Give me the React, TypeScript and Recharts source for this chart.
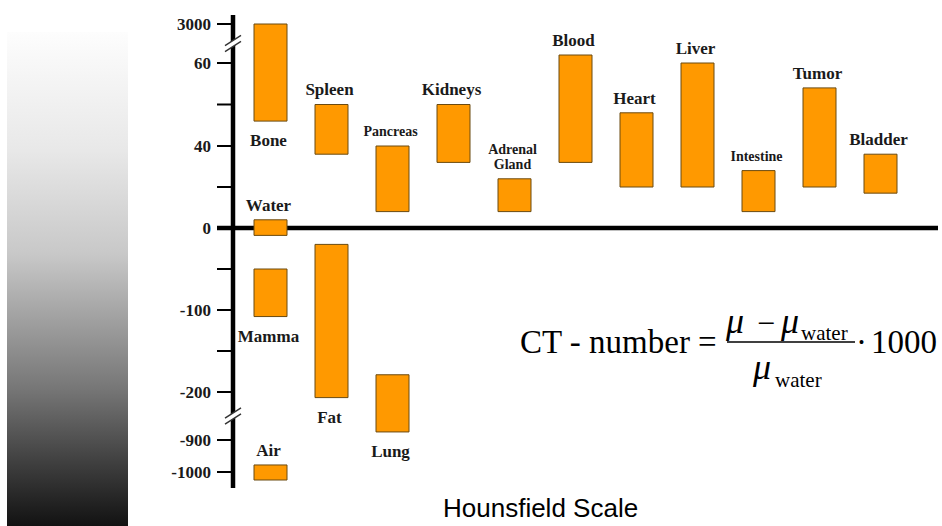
// Hounsfield-Skala: CT-Zahlen der Gewebe als schwebende Balken auf gebrochener Achse.
import { Bar, BarChart, LabelList, ReferenceLine, XAxis, YAxis } from "recharts";

const columns = ["Bone", "Spleen", "Pancreas", "Kidneys", "Adrenal Gland", "Blood", "Heart", "Liver", "Intestine", "Tumor", "Bladder"];

const tissues = ["Bone", "Water", "Mamma", "Air", "Spleen", "Fat", "Pancreas", "Lung", "Kidneys", "Adrenal Gland", "Blood", "Heart", "Liver", "Intestine", "Tumor", "Bladder"];
const tissueColumn = [0, 0, 0, 0, 1, 1, 2, 2, 3, 4, 5, 6, 7, 8, 9, 10];
const tissueLayer = [0, 1, 2, 3, 0, 1, 0, 1, 0, 0, 0, 0, 0, 0, 0, 0];
const huLow = [46, -9, -108, -1025, 36, -207, 8, -761, 32, 8, 32, 20, 20, 8, 20, 17];
const huHigh = [3000, 4, -50, -978, 50, -20, 40, -179, 50, 24, 62, 48, 60, 28, 54, 36];
const labelBelow = ["Bone", "Mamma", "Fat", "Lung"];
const smallLabels = ["Pancreas", "Adrenal Gland", "Intestine"];

const tickHU = [3000, 60, 50, 40, 20, 0, -50, -100, -150, -200, -900, -1000];
const labeledHU = [3000, 60, 40, 0, -100, -200, -900, -1000];
const axisBreaks = [
  [60, 3000],
  [-200, -900],
];

// gebrochene Achse: HU -> Zeichenkoordinate (stückweise linear)
const anchorHU = [-1050, -1000, -900, -210, -200, 0, 40, 60, 62, 3000, 3300];
const anchorPos = [-260, -244, -212, -172, -164, 0, 82, 165, 173, 204, 213];

function toPos(hu: number): number {
  for (let i = 1; i < anchorHU.length; i++) {
    if (hu <= anchorHU[i]) {
      const t = (hu - anchorHU[i - 1]) / (anchorHU[i] - anchorHU[i - 1]);
      return anchorPos[i - 1] + t * (anchorPos[i] - anchorPos[i - 1]);
    }
  }
  return anchorPos[anchorPos.length - 1];
}

const layers = [0, 1, 2, 3];
const rows = columns.map((col, c) => {
  const row: Record<string, any> = { col };
  tissues.forEach((name, i) => {
    if (tissueColumn[i] !== c) return;
    row[`r${tissueLayer[i]}`] = [toPos(huLow[i]), toPos(huHigh[i])];
    row[`n${tissueLayer[i]}`] = name;
  });
  return row;
});

const tickPos = tickHU.map(toPos);
const breakPos = axisBreaks.map(([a, b]) => (toPos(a) + toPos(b)) / 2);

const SERIF = '"Liberation Serif", "Times New Roman", serif';
const INK = "#1a1a1a";

function HuTick(props: any) {
  const { x, y, payload } = props;
  const v = payload.value;
  if (breakPos.some((p) => Math.abs(p - v) < 0.01)) {
    return (
      <g>
        <polygon points={`${x - 4},${y - 0.4} ${x + 4},${y - 5.6} ${x + 4},${y + 0.4} ${x - 4},${y + 5.6}`} fill="#fff" />
        <line x1={x - 8} y1={y + 2.2} x2={x + 8} y2={y - 8.2} stroke="#333" strokeWidth={1.4} />
        <line x1={x - 8} y1={y + 8.2} x2={x + 8} y2={y - 2.2} stroke="#333" strokeWidth={1.4} />
      </g>
    );
  }
  const i = tickPos.findIndex((p) => Math.abs(p - v) < 0.01);
  const hu = tickHU[i];
  return (
    <g>
      <line x1={x - 16} x2={x} y1={y} y2={y} stroke="#000" strokeWidth={hu === 0 ? 4.5 : 2} />
      {labeledHU.includes(hu) && (
        <text x={x - 22} y={y} dy="0.35em" textAnchor="end" fontFamily={SERIF} fontWeight="bold" fontSize={17} fill={INK}>
          {hu}
        </text>
      )}
    </g>
  );
}

function TissueLabel(props: any) {
  const { x, y, width, height, value } = props;
  if (!value) return null;
  const top = Math.min(y, y + height);
  const bottom = Math.max(y, y + height);
  const cx = x + width / 2 - 2;
  const fontSize = smallLabels.includes(value) ? 14 : 17;
  const lines = String(value).split(" ");
  const centers = labelBelow.includes(value)
    ? lines.map((_, k) => bottom + 19 + k * 15)
    : lines.map((_, k) => top - 15 - (lines.length - 1 - k) * 15);
  return (
    <g>
      {lines.map((line, k) => (
        <text key={k} x={cx} y={centers[k]} dy="0.35em" textAnchor="middle" fontFamily={SERIF} fontWeight="bold" fontSize={fontSize} fill={INK}>
          {line}
        </text>
      ))}
    </g>
  );
}

export default function App() {
  return (
    <div style={{ position: "absolute", left: 0, top: 0, width: 942, height: 526, background: "#fff", overflow: "hidden" }}>
      <div
        style={{
          position: "absolute",
          left: 7,
          top: 32,
          width: 121,
          height: 494,
          background: "linear-gradient(to bottom, #fdfdfd 0%, #e8e8e8 24%, #c8c8c8 45%, #777777 72%, #404040 87%, #121212 100%)",
        }}
      />
      <BarChart width={942} height={526} data={rows} margin={{ top: 15, right: 4, bottom: 38, left: 0 }}>
        {layers.map((l) => (
          <XAxis key={l} xAxisId={l} dataKey="col" hide padding={{ left: 7, right: 27 }} />
        ))}
        <YAxis
          type="number"
          domain={[-260, 213]}
          allowDataOverflow
          ticks={[...tickPos, ...breakPos]}
          interval={0}
          width={233}
          tickSize={0}
          tickMargin={0}
          tickLine={false}
          axisLine={{ stroke: "#000", strokeWidth: 4.5 }}
          tick={<HuTick />}
        />
        <ReferenceLine y={0} stroke="#000" strokeWidth={4.5} zIndex={-1} />
        {layers.map((l) => (
          <Bar key={l} xAxisId={l} dataKey={`r${l}`} barSize={33} fill="#ff9900" stroke="#6b4a10" strokeWidth={1} isAnimationActive={false}>
            <LabelList dataKey={`n${l}`} content={<TissueLabel />} />
          </Bar>
        ))}
      </BarChart>
      <svg width={942} height={526} style={{ position: "absolute", left: 0, top: 0, pointerEvents: "none" }}>
        <g fontFamily={SERIF} fill="#000">
          <text x={520} y={353} fontSize={33}>CT - number =</text>
          <text x={726} y={333} fontSize={36} fontStyle="italic">μ</text>
          <text x={757} y={334} fontSize={32}>−</text>
          <text x={781} y={333} fontSize={36} fontStyle="italic">μ</text>
          <text x={801} y={340} fontSize={21}>water</text>
          <line x1={727} x2={855} y1={342} y2={342} stroke="#000" strokeWidth={1.5} />
          <text x={753} y={379} fontSize={36} fontStyle="italic">μ</text>
          <text x={775} y={387} fontSize={21}>water</text>
          <text x={856} y={353} fontSize={33}>·</text>
          <text x={871} y={353} fontSize={33}>1000</text>
        </g>
        <text x={443} y={517} fontFamily='"Liberation Sans", Arial, sans-serif' fontSize={26} fill="#000">
          Hounsfield Scale
        </text>
      </svg>
    </div>
  );
}
